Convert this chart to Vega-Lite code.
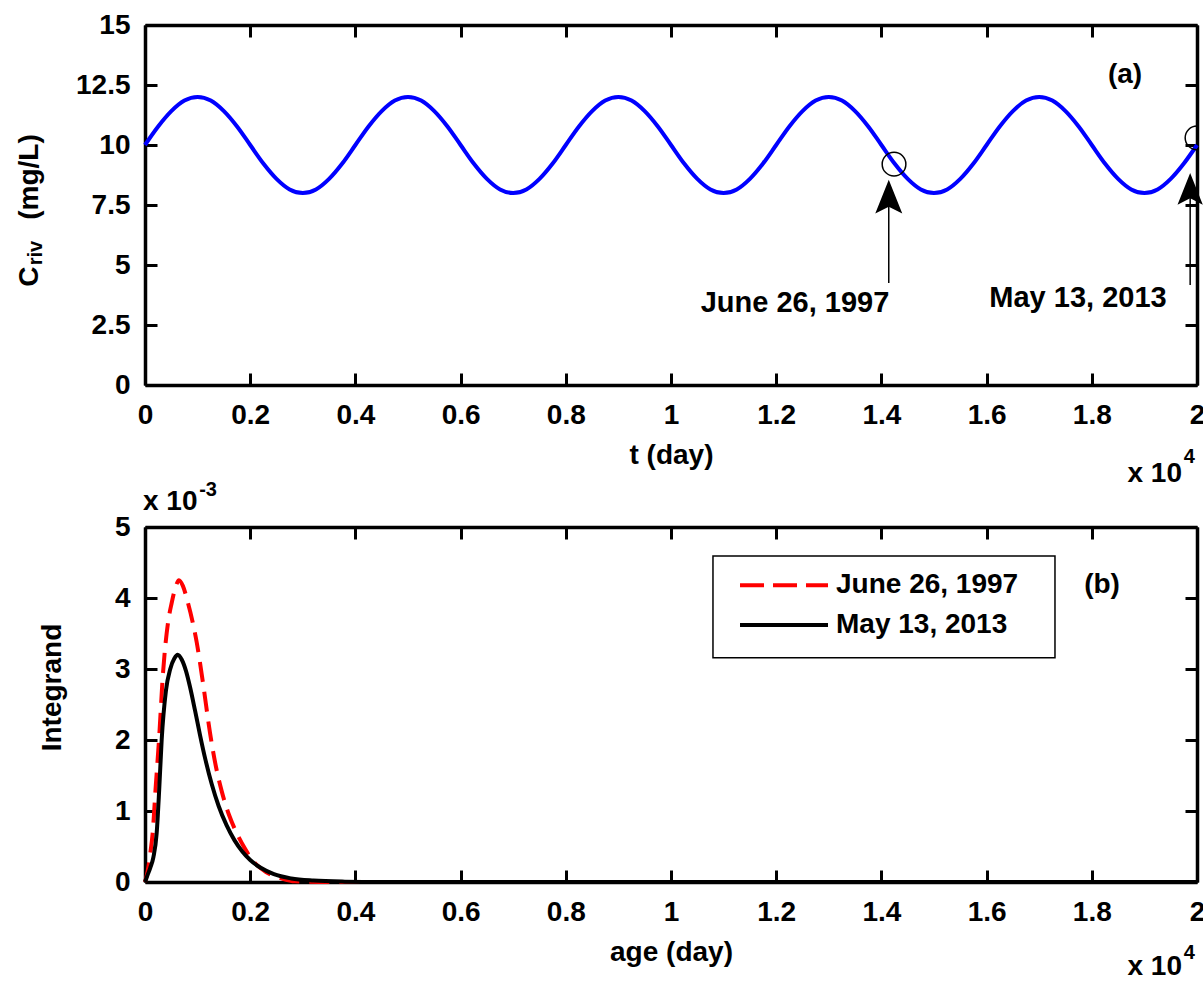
{
  "$schema": "https://vega.github.io/schema/vega-lite/v6.json",
  "autosize": {"type": "pad"},
  "padding": {"left": 15, "top": 11, "right": 4, "bottom": 0},
  "background": "white",
  "bounds": "flush",
  "spacing": 142,
  "config": {
    "view": {"stroke": null},
    "axis": {
      "labelFont": "Liberation Sans", "labelFontWeight": "bold", "labelFontSize": 28, "labelColor": "black",
      "titleFont": "Liberation Sans", "titleFontWeight": "bold", "titleFontSize": 28, "titleColor": "black",
      "domainColor": "black", "domainWidth": 3.5, "tickColor": "black", "tickWidth": 3, "tickSize": -12,
      "grid": false, "labelFlush": false, "labelOverlap": false
    },
    "text": {"font": "Liberation Sans", "fontWeight": "bold", "color": "black"}
  },
  "vconcat": [
    {
      "width": 1052, "height": 360,
      "resolve": {"axis": {"x": "independent", "y": "independent"}},
      "layer": [
        {
          "data": {"values": [
            {"t":0,"c":10},{"t":250,"c":10.77},{"t":500,"c":11.41},{"t":750,"c":11.85},{"t":1000,"c":12},{"t":1250,"c":11.85},{"t":1500,"c":11.41},{"t":1750,"c":10.77},
            {"t":2000,"c":10},{"t":2250,"c":9.23},{"t":2500,"c":8.59},{"t":2750,"c":8.15},{"t":3000,"c":8},{"t":3250,"c":8.15},{"t":3500,"c":8.59},{"t":3750,"c":9.23},
            {"t":4000,"c":10},{"t":4250,"c":10.77},{"t":4500,"c":11.41},{"t":4750,"c":11.85},{"t":5000,"c":12},{"t":5250,"c":11.85},{"t":5500,"c":11.41},{"t":5750,"c":10.77},
            {"t":6000,"c":10},{"t":6250,"c":9.23},{"t":6500,"c":8.59},{"t":6750,"c":8.15},{"t":7000,"c":8},{"t":7250,"c":8.15},{"t":7500,"c":8.59},{"t":7750,"c":9.23},
            {"t":8000,"c":10},{"t":8250,"c":10.77},{"t":8500,"c":11.41},{"t":8750,"c":11.85},{"t":9000,"c":12},{"t":9250,"c":11.85},{"t":9500,"c":11.41},{"t":9750,"c":10.77},
            {"t":10000,"c":10},{"t":10250,"c":9.23},{"t":10500,"c":8.59},{"t":10750,"c":8.15},{"t":11000,"c":8},{"t":11250,"c":8.15},{"t":11500,"c":8.59},{"t":11750,"c":9.23},
            {"t":12000,"c":10},{"t":12250,"c":10.77},{"t":12500,"c":11.41},{"t":12750,"c":11.85},{"t":13000,"c":12},{"t":13250,"c":11.85},{"t":13500,"c":11.41},{"t":13750,"c":10.77},
            {"t":14000,"c":10},{"t":14250,"c":9.23},{"t":14500,"c":8.59},{"t":14750,"c":8.15},{"t":15000,"c":8},{"t":15250,"c":8.15},{"t":15500,"c":8.59},{"t":15750,"c":9.23},
            {"t":16000,"c":10},{"t":16250,"c":10.77},{"t":16500,"c":11.41},{"t":16750,"c":11.85},{"t":17000,"c":12},{"t":17250,"c":11.85},{"t":17500,"c":11.41},{"t":17750,"c":10.77},
            {"t":18000,"c":10},{"t":18250,"c":9.23},{"t":18500,"c":8.59},{"t":18750,"c":8.15},{"t":19000,"c":8},{"t":19250,"c":8.15},{"t":19500,"c":8.59},{"t":19750,"c":9.23},
            {"t":20000,"c":10}
          ]},
          "mark": {"type": "line", "color": "#0000ff", "strokeWidth": 4, "interpolate": "monotone"},
          "encoding": {
            "x": {"field": "t", "type": "quantitative", "scale": {"domain": [0, 20000], "nice": false},
                  "axis": {"orient": "bottom", "values": [0,2000,4000,6000,8000,10000,12000,14000,16000,18000,20000],
                           "labelExpr": "datum.value/10000 + ''", "labelPadding": 28,
                           "title": "t (day)", "titleY": 70, "titleBaseline": "middle"}},
            "y": {"field": "c", "type": "quantitative", "scale": {"domain": [0, 15], "nice": false},
                  "axis": {"orient": "left", "values": [0,2.5,5,7.5,10,12.5,15], "labelExpr": "datum.value + ''",
                           "labelPadding": 27,
                           "title": "C\u00a0\u00a0\u00a0\u00a0\u00a0\u00a0(mg/L)", "titleAngle": 270, "titleAlign": "center",
                           "titleBaseline": "middle", "titleX": -116, "titleY": 185}}
          }
        },
        {
          "data": {"values": [{"t": 14240, "c": 9.2}, {"t": 20000, "c": 10.3}]},
          "mark": {"type": "point", "shape": "circle", "size": 560, "stroke": "black", "strokeWidth": 1.5, "filled": false, "opacity": 1, "clip": true},
          "encoding": {
            "x": {"field": "t", "type": "quantitative", "scale": {"domain": [0, 20000], "nice": false},
                  "axis": {"orient": "top", "values": [0,2000,4000,6000,8000,10000,12000,14000,16000,18000,20000], "labels": false, "title": null}},
            "y": {"field": "c", "type": "quantitative", "scale": {"domain": [0, 15], "nice": false},
                  "axis": {"orient": "right", "values": [0,2.5,5,7.5,10,12.5,15], "labels": false, "title": null}}
          }
        },
        {
          "data": {"values": [{}]},
          "mark": {"type": "rule", "color": "black", "strokeWidth": 1.5},
          "encoding": {
            "x": {"datum": 14140, "type": "quantitative", "scale": {"domain": [0, 20000], "nice": false}, "axis": null},
            "y": {"datum": 4.25, "type": "quantitative", "scale": {"domain": [0, 15], "nice": false}, "axis": null},
            "y2": {"datum": 8.3}
          }
        },
        {
          "data": {"values": [{}]},
          "mark": {"type": "point", "shape": "M0,-1.2L-0.8,0.8L0,0.4L0.8,0.8Z", "size": 1139, "filled": true, "color": "black", "opacity": 1},
          "encoding": {
            "x": {"datum": 14140, "type": "quantitative", "scale": {"domain": [0, 20000], "nice": false}, "axis": null},
            "y": {"datum": 7.71, "type": "quantitative", "scale": {"domain": [0, 15], "nice": false}, "axis": null}
          }
        },
        {
          "data": {"values": [{}]},
          "mark": {"type": "rule", "color": "black", "strokeWidth": 1.5},
          "encoding": {
            "x": {"datum": 19870, "type": "quantitative", "scale": {"domain": [0, 20000], "nice": false}, "axis": null},
            "y": {"datum": 4.17, "type": "quantitative", "scale": {"domain": [0, 15], "nice": false}, "axis": null},
            "y2": {"datum": 8.6}
          }
        },
        {
          "data": {"values": [{}]},
          "mark": {"type": "point", "shape": "M0,-1.2L-0.8,0.8L0,0.4L0.8,0.8Z", "size": 1000, "filled": true, "color": "black", "opacity": 1},
          "encoding": {
            "x": {"datum": 19870, "type": "quantitative", "scale": {"domain": [0, 20000], "nice": false}, "axis": null},
            "y": {"datum": 8.04, "type": "quantitative", "scale": {"domain": [0, 15], "nice": false}, "axis": null}
          }
        },
        {
          "data": {"values": [{}]},
          "mark": {"type": "text", "fontSize": 29, "align": "center", "baseline": "middle"},
          "encoding": {
            "x": {"datum": 12357, "type": "quantitative", "scale": {"domain": [0, 20000], "nice": false}, "axis": null},
            "y": {"datum": 3.42, "type": "quantitative", "scale": {"domain": [0, 15], "nice": false}, "axis": null},
            "text": {"value": "June 26, 1997"}
          }
        },
        {
          "data": {"values": [{}]},
          "mark": {"type": "text", "fontSize": 29, "align": "center", "baseline": "middle"},
          "encoding": {
            "x": {"datum": 17737, "type": "quantitative", "scale": {"domain": [0, 20000], "nice": false}, "axis": null},
            "y": {"datum": 3.63, "type": "quantitative", "scale": {"domain": [0, 15], "nice": false}, "axis": null},
            "text": {"value": "May 13, 2013"}
          }
        },
        {
          "data": {"values": [{}]},
          "mark": {"type": "text", "fontSize": 28, "align": "center", "baseline": "middle"},
          "encoding": {
            "x": {"datum": 18631, "type": "quantitative", "scale": {"domain": [0, 20000], "nice": false}, "axis": null},
            "y": {"datum": 12.92, "type": "quantitative", "scale": {"domain": [0, 15], "nice": false}, "axis": null},
            "text": {"value": "(a)"}
          }
        },
        {
          "data": {"values": [{}]},
          "mark": {"type": "text", "fontSize": 20, "align": "center", "baseline": "middle", "angle": 270},
          "encoding": {
            "x": {"datum": -2072, "type": "quantitative", "scale": {"domain": [0, 20000], "nice": false}, "axis": null},
            "y": {"datum": 5.5, "type": "quantitative", "scale": {"domain": [0, 15], "nice": false}, "axis": null},
            "text": {"value": "riv"}
          }
        },
        {
          "data": {"values": [{}]},
          "mark": {"type": "text", "fontSize": 28, "align": "right", "baseline": "alphabetic"},
          "encoding": {
            "x": {"datum": 19715, "type": "quantitative", "scale": {"domain": [0, 20000], "nice": false}, "axis": null},
            "y": {"datum": -4.04, "type": "quantitative", "scale": {"domain": [0, 15], "nice": false}, "axis": null},
            "text": {"value": "x 10"}
          }
        },
        {
          "data": {"values": [{}]},
          "mark": {"type": "text", "fontSize": 20, "align": "left", "baseline": "alphabetic"},
          "encoding": {
            "x": {"datum": 19750, "type": "quantitative", "scale": {"domain": [0, 20000], "nice": false}, "axis": null},
            "y": {"datum": -3.25, "type": "quantitative", "scale": {"domain": [0, 15], "nice": false}, "axis": null},
            "text": {"value": "4"}
          }
        }
      ]
    },
    {
      "width": 1052, "height": 355,
      "resolve": {"axis": {"x": "independent", "y": "independent"}},
      "layer": [
        {
          "data": {"values": [
            {"age":0,"v":0},{"age":50,"v":0.00015},{"age":100,"v":0.0004},{"age":146,"v":0.00069},{"age":200,"v":0.0013},{"age":266,"v":0.002},
            {"age":342,"v":0.00294},{"age":437,"v":0.00365},{"age":507,"v":0.00393},{"age":580,"v":0.00415},{"age":646,"v":0.00425},{"age":720,"v":0.00417},
            {"age":817,"v":0.00393},{"age":900,"v":0.00368},{"age":982,"v":0.00338},{"age":1103,"v":0.0028},{"age":1236,"v":0.0021},{"age":1350,"v":0.00162},
            {"age":1458,"v":0.00128},{"age":1600,"v":0.00094},{"age":1743,"v":0.00069},{"age":1900,"v":0.00047},{"age":2050,"v":0.0003},{"age":2300,"v":0.00014},
            {"age":2600,"v":0.00005},{"age":2850,"v":0.00001},{"age":3500,"v":0},{"age":5000,"v":0},{"age":10000,"v":0},{"age":20000,"v":0}
          ]},
          "mark": {"type": "line", "color": "#ff0000", "strokeWidth": 4, "strokeDash": [20, 10], "interpolate": "monotone"},
          "encoding": {
            "x": {"field": "age", "type": "quantitative", "scale": {"domain": [0, 20000], "nice": false},
                  "axis": {"orient": "bottom", "values": [0,2000,4000,6000,8000,10000,12000,14000,16000,18000,20000],
                           "labelExpr": "datum.value/10000 + ''", "labelPadding": 28,
                           "title": "age (day)", "titleY": 70, "titleBaseline": "middle"}},
            "y": {"field": "v", "type": "quantitative", "scale": {"domain": [0, 0.005], "nice": false},
                  "axis": {"orient": "left", "values": [0,0.001,0.002,0.003,0.004,0.005], "labelExpr": "round(datum.value*1000) + ''",
                           "labelPadding": 27,
                           "title": "Integrand", "titleAngle": 270, "titleAlign": "center",
                           "titleBaseline": "middle", "titleX": -93, "titleY": 160}}
          }
        },
        {
          "data": {"values": [
            {"age":0,"v":0},{"age":50,"v":0.0001},{"age":100,"v":0.0002},{"age":160,"v":0.00035},{"age":222,"v":0.00069},{"age":270,"v":0.0013},
            {"age":317,"v":0.002},{"age":399,"v":0.0027},{"age":480,"v":0.003},{"age":560,"v":0.00315},{"age":620,"v":0.0032},{"age":700,"v":0.00313},
            {"age":780,"v":0.00297},{"age":855,"v":0.00275},{"age":950,"v":0.00242},{"age":1046,"v":0.00207},{"age":1150,"v":0.00172},{"age":1268,"v":0.00138},
            {"age":1400,"v":0.00107},{"age":1550,"v":0.0008},{"age":1700,"v":0.00059},{"age":1850,"v":0.00043},{"age":2000,"v":0.00031},{"age":2200,"v":0.0002},
            {"age":2450,"v":0.00011},{"age":2780,"v":0.00005},{"age":3200,"v":0.00002},{"age":3800,"v":0.000005},{"age":4500,"v":0},{"age":10000,"v":0},{"age":20000,"v":0}
          ]},
          "mark": {"type": "line", "color": "black", "strokeWidth": 4, "interpolate": "monotone"},
          "encoding": {
            "x": {"field": "age", "type": "quantitative", "scale": {"domain": [0, 20000], "nice": false},
                  "axis": {"orient": "top", "values": [0,2000,4000,6000,8000,10000,12000,14000,16000,18000,20000], "labels": false, "title": null}},
            "y": {"field": "v", "type": "quantitative", "scale": {"domain": [0, 0.005], "nice": false},
                  "axis": {"orient": "right", "values": [0,0.001,0.002,0.003,0.004,0.005], "labels": false, "title": null}}
          }
        },
        {
          "data": {"values": [{}]},
          "mark": {"type": "rect", "fill": "white", "stroke": "black", "strokeWidth": 1.5},
          "encoding": {
            "x": {"datum": 10798, "type": "quantitative", "scale": {"domain": [0, 20000], "nice": false}, "axis": null},
            "x2": {"datum": 17300},
            "y": {"datum": 0.00459, "type": "quantitative", "scale": {"domain": [0, 0.005], "nice": false}, "axis": null},
            "y2": {"datum": 0.00316}
          }
        },
        {
          "data": {"values": [{}]},
          "mark": {"type": "rule", "color": "#ff0000", "strokeWidth": 4, "strokeDash": [24, 9]},
          "encoding": {
            "x": {"datum": 11312, "type": "quantitative", "scale": {"domain": [0, 20000], "nice": false}, "axis": null},
            "x2": {"datum": 12985},
            "y": {"datum": 0.00418, "type": "quantitative", "scale": {"domain": [0, 0.005], "nice": false}, "axis": null}
          }
        },
        {
          "data": {"values": [{}]},
          "mark": {"type": "rule", "color": "black", "strokeWidth": 4},
          "encoding": {
            "x": {"datum": 11312, "type": "quantitative", "scale": {"domain": [0, 20000], "nice": false}, "axis": null},
            "x2": {"datum": 12985},
            "y": {"datum": 0.00362, "type": "quantitative", "scale": {"domain": [0, 0.005], "nice": false}, "axis": null}
          }
        },
        {
          "data": {"values": [{}]},
          "mark": {"type": "text", "fontSize": 28, "align": "left", "baseline": "middle"},
          "encoding": {
            "x": {"datum": 13137, "type": "quantitative", "scale": {"domain": [0, 20000], "nice": false}, "axis": null},
            "y": {"datum": 0.00418, "type": "quantitative", "scale": {"domain": [0, 0.005], "nice": false}, "axis": null},
            "text": {"value": "June 26, 1997"}
          }
        },
        {
          "data": {"values": [{}]},
          "mark": {"type": "text", "fontSize": 28, "align": "left", "baseline": "middle"},
          "encoding": {
            "x": {"datum": 13137, "type": "quantitative", "scale": {"domain": [0, 20000], "nice": false}, "axis": null},
            "y": {"datum": 0.00362, "type": "quantitative", "scale": {"domain": [0, 0.005], "nice": false}, "axis": null},
            "text": {"value": "May 13, 2013"}
          }
        },
        {
          "data": {"values": [{}]},
          "mark": {"type": "text", "fontSize": 28, "align": "center", "baseline": "middle"},
          "encoding": {
            "x": {"datum": 18194, "type": "quantitative", "scale": {"domain": [0, 20000], "nice": false}, "axis": null},
            "y": {"datum": 0.00418, "type": "quantitative", "scale": {"domain": [0, 0.005], "nice": false}, "axis": null},
            "text": {"value": "(b)"}
          }
        },
        {
          "data": {"values": [{}]},
          "mark": {"type": "text", "fontSize": 28, "align": "left", "baseline": "alphabetic"},
          "encoding": {
            "x": {"datum": -38, "type": "quantitative", "scale": {"domain": [0, 20000], "nice": false}, "axis": null},
            "y": {"datum": 0.00524, "type": "quantitative", "scale": {"domain": [0, 0.005], "nice": false}, "axis": null},
            "text": {"value": "x 10"}
          }
        },
        {
          "data": {"values": [{}]},
          "mark": {"type": "text", "fontSize": 20, "align": "left", "baseline": "alphabetic"},
          "encoding": {
            "x": {"datum": 1030, "type": "quantitative", "scale": {"domain": [0, 20000], "nice": false}, "axis": null},
            "y": {"datum": 0.00544, "type": "quantitative", "scale": {"domain": [0, 0.005], "nice": false}, "axis": null},
            "text": {"value": "-3"}
          }
        },
        {
          "data": {"values": [{}]},
          "mark": {"type": "text", "fontSize": 28, "align": "right", "baseline": "alphabetic"},
          "encoding": {
            "x": {"datum": 19715, "type": "quantitative", "scale": {"domain": [0, 20000], "nice": false}, "axis": null},
            "y": {"datum": -0.00131, "type": "quantitative", "scale": {"domain": [0, 0.005], "nice": false}, "axis": null},
            "text": {"value": "x 10"}
          }
        },
        {
          "data": {"values": [{}]},
          "mark": {"type": "text", "fontSize": 20, "align": "left", "baseline": "alphabetic"},
          "encoding": {
            "x": {"datum": 19750, "type": "quantitative", "scale": {"domain": [0, 20000], "nice": false}, "axis": null},
            "y": {"datum": -0.001085, "type": "quantitative", "scale": {"domain": [0, 0.005], "nice": false}, "axis": null},
            "text": {"value": "4"}
          }
        }
      ]
    }
  ]
}
